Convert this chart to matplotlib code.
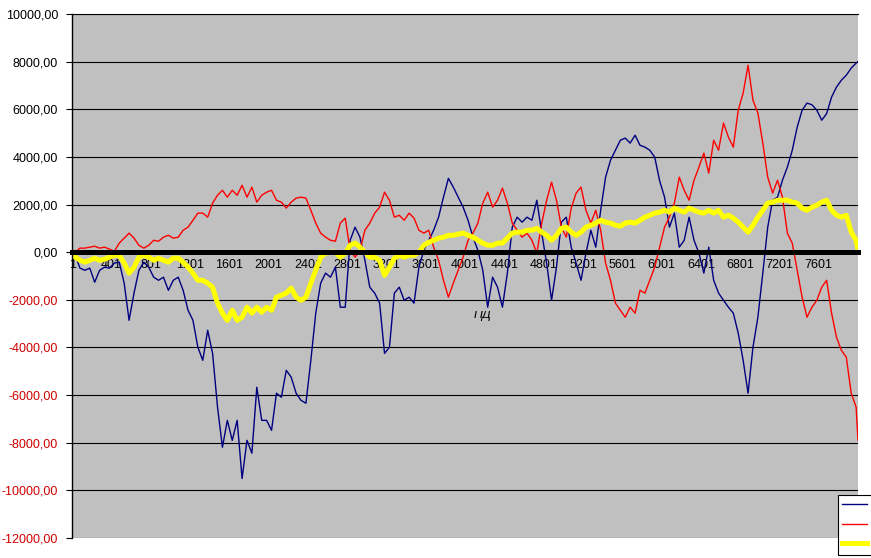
import matplotlib
matplotlib.use("Agg")
import matplotlib.pyplot as plt
from matplotlib.ticker import FuncFormatter
from matplotlib.transforms import Bbox, TransformedBbox

plt.rcParams['font.family'] = ['Liberation Sans', 'DejaVu Sans']

# sample positions (every 50th row)
idx = list(range(31, 8000, 50)) + [8000]

blue = [-100, -670, -760, -670, -1260, -760, -630, -670, -460, -420,
        -1300, -2860, -1720, -760, -420, -630, -1050, -1180, -1050, -1600,
        -1180, -1050, -1600, -2440, -2860, -3990, -4540, -3280, -4250, -6500,
        -8190, -7060, -7900, -7060, -9500, -7900, -8440, -5670, -7060, -7060,
        -7480, -5920, -6090, -4960, -5250, -5920, -6220, -6340, -4540, -2560,
        -1300, -880, -1050, -630, -2310, -2310, 500, 1050, 630, -340,
        -1470, -1720, -2140, -4250, -3990, -1720, -1470, -2020, -1890, -2140,
        -630, 80, 500, 920, 1470, 2310, 3100, 2730, 2310, 1890,
        1340, 630, 80, -760, -2310, -1050, -1470, -2310, -880, 1050,
        1470, 1260, 1470, 1340, 2180, 800, -460, -2020, -630, 1260,
        1470, 210, -460, -1180, -40, 920, 210, 1760, 3150, 3860,
        4280, 4700, 4790, 4580, 4910, 4490, 4410, 4280, 3990, 3000,
        2310, 1050, 1640, 210, 500, 1470, 500, -40, -880, 210,
        -1180, -1720, -2020, -2310, -2560, -3400, -4540, -5920, -3990, -2730,
        -880, 1050, 2180, 2310, 3020, 3570, 4280, 5250, 5960, 6260,
        6190, 5960, 5540, 5820, 6510, 6930, 7220, 7430, 7730, 7940,
        8000]

red = [0, 170, 170, 210, 250, 170, 210, 130, 40, 380,
       590, 800, 590, 290, 170, 290, 500, 460, 630, 710,
       590, 630, 920, 1050, 1340, 1640, 1640, 1470, 2060, 2390,
       2600, 2310, 2600, 2390, 2810, 2310, 2730, 2100, 2390, 2520,
       2600, 2180, 2100, 1850, 2100, 2270, 2310, 2270, 1760, 1220,
       800, 630, 500, 460, 1220, 1430, 80, -210, 80, 920,
       1220, 1640, 1890, 2520, 2180, 1470, 1550, 1340, 1640, 1430,
       920, 800, 920, 210, -340, -1180, -1890, -1300, -760, -210,
       500, 800, 1220, 2060, 2520, 1890, 2180, 2690, 2060, 1220,
       920, 630, 800, 500, -40, 1220, 2180, 2940, 2180, 1050,
       630, 1850, 2480, 2730, 1760, 1220, 1760, 920, -460, -1180,
       -2140, -2440, -2730, -2310, -2560, -1600, -1720, -1180, -630, 210,
       1050, 1470, 2060, 3150, 2600, 2180, 3020, 3570, 4160, 3320,
       4700, 4280, 5420, 4830, 4410, 5960, 6680, 7850, 6380, 5840,
       4580, 3150, 2480, 3020, 2310, 800, 380, -760, -1890, -2730,
       -2310, -2020, -1470, -1180, -2560, -3570, -4120, -4410, -5920, -6510,
       -7900]

yellow = [-200, -340, -420, -340, -250, -340, -300, -210, -130, -130,
          -460, -880, -630, -210, -130, -210, -340, -250, -340, -420,
          -250, -250, -420, -630, -880, -1180, -1180, -1300, -1470, -2140,
          -2560, -2860, -2440, -2860, -2730, -2310, -2560, -2310, -2520, -2310,
          -2440, -1890, -1810, -1720, -1510, -1890, -2020, -1890, -1300, -760,
          -210, -40, 0, 0, -210, -40, 290, 380, 210, 0,
          -210, -210, -340, -970, -630, -250, -130, -210, -130, -130,
          0, 290, 420, 500, 590, 630, 710, 710, 760, 800,
          710, 630, 500, 380, 290, 290, 380, 380, 590, 800,
          840, 840, 920, 920, 1000, 840, 710, 500, 710, 1000,
          1050, 840, 710, 840, 1050, 1130, 1220, 1340, 1260, 1220,
          1130, 1090, 1220, 1260, 1220, 1340, 1470, 1550, 1640, 1680,
          1760, 1680, 1850, 1760, 1680, 1850, 1760, 1680, 1640, 1760,
          1640, 1760, 1470, 1550, 1430, 1260, 1050, 840, 1130, 1470,
          1760, 2060, 2100, 2180, 2180, 2180, 2100, 2060, 1850, 1760,
          1890, 1970, 2100, 2180, 1760, 1550, 1470, 1550, 840, 500,
          100]

# legend text is cut off by the picture edge in the reference, so no names show
series_names = [' ', ' ', ' ']
xticks = list(range(1, 7602, 400))
yticks = list(range(-12000, 10001, 2000))

fig = plt.figure(figsize=(8.71, 5.58), dpi=100)
ax = fig.add_axes([72 / 871, 20 / 558, 786 / 871, 524 / 558])
ax.set_facecolor('#c0c0c0')

ax.plot(idx, blue, color='#000080', lw=1.0)
ax.plot(idx, red, color='#ff0000', lw=1.0)
ax.plot(idx, yellow, color='#ffff00', lw=3.6)

ax.set_xlim(0, 8000)
ax.set_ylim(-12000, 10000)

ax.set_yticks(yticks)
ax.yaxis.set_major_formatter(FuncFormatter(lambda v, p: f"{v:.2f}".replace('.', ',')))
ax.yaxis.grid(True, color='black', lw=0.8)
ax.tick_params(axis='y', length=4, width=0.8, pad=6, labelsize=9)
for lab, v in zip(ax.get_yticklabels(), yticks):
    if v < 0:
        lab.set_color('#d00000')

ax.set_xticks(xticks)
ax.set_xticklabels([str(t) for t in xticks])
ax.tick_params(axis='x', length=0, pad=5, labelsize=9)

ax.spines['right'].set_visible(False)
ax.spines['top'].set_color('black')
ax.spines['top'].set_linewidth(0.8)
ax.spines['left'].set_linewidth(1)
ax.spines['bottom'].set_position(('data', 0))
ax.spines['bottom'].set_linewidth(3.6)
ax.spines['bottom'].set_color('black')

leg = ax.legend(ax.get_lines(), series_names, loc='upper left',
                bbox_to_anchor=(838 / 871, 1 - 495 / 558), bbox_transform=fig.transFigure,
                frameon=True, fancybox=False, framealpha=1, edgecolor='black',
                fontsize=9, handlelength=2.0, borderaxespad=0, labelspacing=0.6,
                borderpad=0.35)
leg.get_frame().set_linewidth(0.8)

# half hidden axis caption
t = fig.text(482 / 871, 1 - 318 / 558, 'ПД', fontsize=9, style='italic',
             ha='center', va='baseline')
t.set_clip_box(TransformedBbox(Bbox([[0, 0], [1, 1 - 311 / 558]]), fig.transFigure))
t.set_clip_on(True)

fig.savefig('out.png', dpi=100)
